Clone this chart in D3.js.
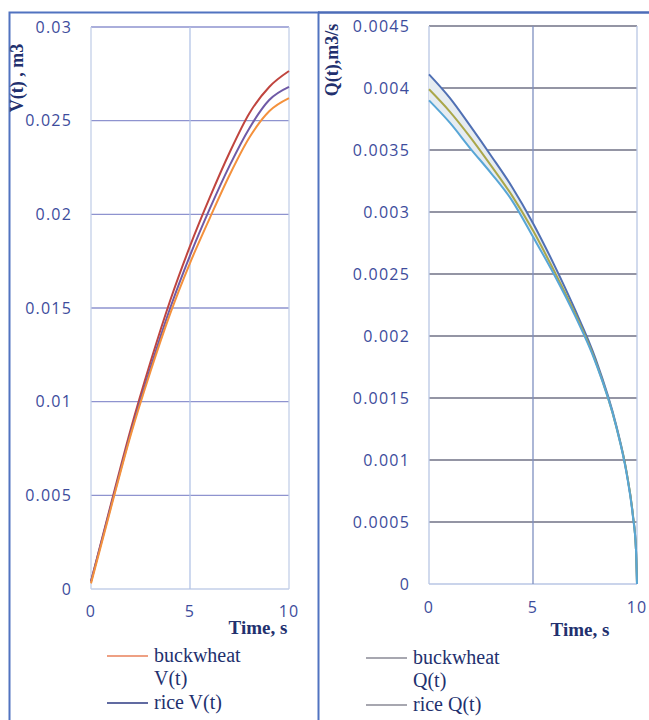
<!DOCTYPE html>
<html>
<head>
<meta charset="utf-8">
<script src="https://cdn.jsdelivr.net/npm/d3@7"></script>
<style>
  body { margin: 0; background: #ffffff; }
  svg { display: block; }
</style>
</head>
<body>
<div class="display"></div>
<script>
const WIDTH = 649;
const HEIGHT = 720;

// left panel: volume V(t)
const TIME_V = [0, 1, 2, 3, 4, 5, 6, 7, 8, 9, 10];
const V_RED = [0.0004, 0.0045, 0.0085, 0.0121, 0.0154, 0.0183, 0.0209, 0.0233, 0.0254, 0.0268, 0.02765];
const V_PURPLE = [0.0004, 0.0044, 0.0083, 0.0118, 0.0150, 0.0178, 0.0203, 0.0226, 0.0246, 0.0261, 0.0268];
const V_ORANGE = [0.0003, 0.0043, 0.0082, 0.0116, 0.0147, 0.0174, 0.0198, 0.0221, 0.0241, 0.0255, 0.0262];
const V_TICKS = [0, 0.005, 0.01, 0.015, 0.02, 0.025, 0.03];
const V_TICK_LABELS = ['0', '0.005', '0.01', '0.015', '0.02', '0.025', '0.03'];

// right panel: flow Q(t)
const TIME_Q = [0, 1, 2, 3, 4, 5, 6, 7, 8, 9, 9.5, 9.8, 9.95, 10];
const Q_TOP = [0.00411, 0.00392, 0.00369, 0.00345, 0.00320, 0.00291, 0.00258, 0.00222, 0.00182, 0.00128, 0.00090, 0.00056, 0.00028, 0];
const Q_MID = [0.00399, 0.00381, 0.00360, 0.00337, 0.00313, 0.00285, 0.00253, 0.00219, 0.00180, 0.00127, 0.00090, 0.00056, 0.00028, 0];
const Q_LOW = [0.00390, 0.00372, 0.00351, 0.00331, 0.00309, 0.00280, 0.00250, 0.00217, 0.00179, 0.00127, 0.00089, 0.00055, 0.00028, 0];
const Q_TICKS = [0, 0.0005, 0.001, 0.0015, 0.002, 0.0025, 0.003, 0.0035, 0.004, 0.0045];
const Q_TICK_LABELS = ['0', '0.0005', '0.001', '0.0015', '0.002', '0.0025', '0.003', '0.0035', '0.004', '0.0045'];

const T_TICKS = [0, 5, 10];

const SANS = '"Open Sans", "DejaVu Sans", sans-serif';
const SERIF = '"Liberation Serif", "Times New Roman", serif';
const TICK_COLOR = '#3d4c9c';
const TITLE_COLOR = '#22306e';

let svg;

function setupSvg() {
  svg = d3.select('.display')
    .append('svg')
    .attr('width', WIDTH)
    .attr('height', HEIGHT);

  // panel frames
  svg.append('rect')
    .attr('x', 9.5).attr('y', 12.5)
    .attr('width', 309).attr('height', HEIGHT)
    .attr('fill', 'none')
    .attr('stroke', '#5173c0')
    .attr('stroke-width', 2);

  svg.append('line')
    .attr('x1', 318).attr('x2', WIDTH)
    .attr('y1', 12.5).attr('y2', 12.5)
    .attr('stroke', '#4d6cb8')
    .attr('stroke-width', 2.5);
}

function drawPanel(opts) {
  const g = svg.append('g');
  const x = d3.scaleLinear().domain([0, 10]).range(opts.xRange);
  const y = d3.scaleLinear().domain(opts.yDomain).range(opts.yRange);

  // horizontal grid
  g.append('g')
    .selectAll('line')
    .data(opts.yTicks)
    .enter()
    .append('line')
    .attr('x1', opts.xRange[0]).attr('x2', opts.xRange[1])
    .attr('y1', d => y(d)).attr('y2', d => y(d))
    .attr('stroke', d => d === 0 ? opts.borderColor : opts.hGridColor)
    .attr('stroke-width', 1.3);

  // vertical grid
  g.append('g')
    .selectAll('line')
    .data(T_TICKS)
    .enter()
    .append('line')
    .attr('x1', d => x(d)).attr('x2', d => x(d))
    .attr('y1', opts.yRange[0]).attr('y2', opts.yRange[1])
    .attr('stroke', d => d === 5 ? opts.vGridColor : opts.borderColor)
    .attr('stroke-width', 1.3);

  // y tick labels
  g.append('g')
    .selectAll('text')
    .data(opts.yTicks)
    .enter()
    .append('text')
    .attr('x', opts.xRange[0] - 19)
    .attr('y', d => y(d))
    .attr('dy', '0.36em')
    .attr('text-anchor', 'end')
    .style('font-family', SANS)
    .style('font-size', '16px')
    .style('letter-spacing', '1.2px')
    .attr('fill', TICK_COLOR)
    .text((d, i) => opts.yTickLabels[i]);

  // x tick labels
  g.append('g')
    .selectAll('text')
    .data(T_TICKS)
    .enter()
    .append('text')
    .attr('x', d => x(d))
    .attr('y', opts.xLabelY)
    .attr('text-anchor', 'middle')
    .style('font-family', SANS)
    .style('font-size', '16px')
    .style('letter-spacing', '1.2px')
    .attr('fill', TICK_COLOR)
    .text(d => d);

  // axis titles
  g.append('text')
    .attr('x', opts.xTitle[0])
    .attr('y', opts.xTitle[1])
    .attr('text-anchor', 'middle')
    .style('font-family', SERIF)
    .style('font-weight', 'bold')
    .style('font-size', '19px')
    .attr('fill', TITLE_COLOR)
    .text('Time, s');

  g.append('text')
    .attr('transform', `translate(${opts.yTitle[0]}, ${opts.yTitle[1]}) rotate(-90)`)
    .attr('text-anchor', 'middle')
    .style('font-family', SERIF)
    .style('font-weight', 'bold')
    .style('font-size', '18px')
    .attr('fill', TITLE_COLOR)
    .text(opts.yTitleText);

  // faint band between outer curves
  if (opts.band) {
    const area = d3.area()
      .x((d, i) => x(opts.time[i]))
      .y0((d, i) => y(opts.band[1][i]))
      .y1((d, i) => y(opts.band[0][i]))
      .curve(d3.curveMonotoneX);
    g.append('path')
      .attr('d', area(opts.time))
      .attr('fill', opts.bandColor);
  }

  // curves
  const line = d3.line()
    .x((d, i) => x(opts.time[i]))
    .y(d => y(d))
    .curve(d3.curveMonotoneX);

  opts.series.forEach(s => {
    g.append('path')
      .attr('d', line(s.values))
      .attr('fill', 'none')
      .attr('stroke', s.color)
      .attr('stroke-width', 2);
  });

  // legend
  opts.legend.forEach(item => {
    g.append('line')
      .attr('x1', opts.legendX).attr('x2', opts.legendX + 41)
      .attr('y1', item.y).attr('y2', item.y)
      .attr('stroke', item.color)
      .attr('stroke-width', 1.5);

    item.lines.forEach((txt, k) => {
      g.append('text')
        .attr('x', opts.legendX + 47)
        .attr('y', item.y + 6 + k * 23)
        .style('font-family', SERIF)
        .style('font-size', '20px')
        .attr('fill', TITLE_COLOR)
        .text(txt);
    });
  });
}

window.addEventListener('load', () => {
  setupSvg();

  drawPanel({
    xRange: [91, 289],
    yRange: [589, 27],
    yDomain: [0, 0.03],
    yTicks: V_TICKS,
    yTickLabels: V_TICK_LABELS,
    hGridColor: '#8e93cf',
    vGridColor: '#b3c4e6',
    borderColor: '#c3cfe8',
    xLabelY: 617,
    xTitle: [258, 634],
    yTitle: [23, 78],
    yTitleText: 'V(t) , m3',
    time: TIME_V,
    series: [
      { values: V_RED, color: '#c0453f' },
      { values: V_PURPLE, color: '#6f5aa6' },
      { values: V_ORANGE, color: '#f4913c' }
    ],
    legendX: 107,
    legend: [
      { y: 656, color: '#e9805a', lines: ['buckwheat', 'V(t)'] },
      { y: 703, color: '#2d3a82', lines: ['rice V(t)'] }
    ]
  });

  drawPanel({
    xRange: [429, 637],
    yRange: [584, 26],
    yDomain: [0, 0.0045],
    yTicks: Q_TICKS,
    yTickLabels: Q_TICK_LABELS,
    hGridColor: '#707286',
    vGridColor: '#7f90c0',
    borderColor: '#b9c6e4',
    xLabelY: 613,
    xTitle: [580, 636],
    yTitle: [338, 60],
    yTitleText: 'Q(t),m3/s',
    time: TIME_Q,
    band: [Q_TOP, Q_LOW],
    bandColor: '#e6ecf1',
    series: [
      { values: Q_TOP, color: '#5070b4' },
      { values: Q_MID, color: '#aaa74a' },
      { values: Q_LOW, color: '#58a6d6' }
    ],
    legendX: 366,
    legend: [
      { y: 658, color: '#8a8a96', lines: ['buckwheat', 'Q(t)'] },
      { y: 705, color: '#8a8a96', lines: ['rice Q(t)'] }
    ]
  });
}, false);
</script>
</body>
</html>
